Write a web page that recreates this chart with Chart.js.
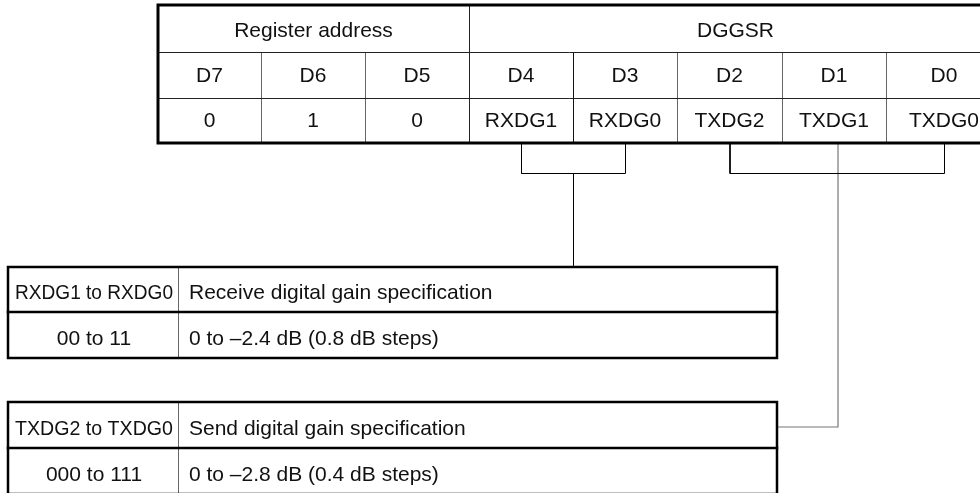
<!DOCTYPE html>
<html>
<head>
<meta charset="utf-8">
<script src="https://cdn.jsdelivr.net/npm/chart.js@4"></script>
<style>
  html, body { margin: 0; padding: 0; background: #fff; }
  #wrap { width: 980px; height: 493px; }
</style>
</head>
<body>
<div id="wrap"><canvas id="regChart" width="980" height="493"></canvas></div>
<script>
// contenido del registro
const headerLabels = ['Register address', 'DGGSR'];
const headerSpans = [3, 5];
const bitNames = ['D7', 'D6', 'D5', 'D4', 'D3', 'D2', 'D1', 'D0'];
const bitValues = ['0', '1', '0', 'RXDG1', 'RXDG0', 'TXDG2', 'TXDG1', 'TXDG0'];
const rxRows = [
  ['RXDG1 to RXDG0', 'Receive digital gain specification'],
  ['00 to 11', '0 to \u20132.4 dB (0.8 dB steps)']
];
const txRows = [
  ['TXDG2 to TXDG0', 'Send digital gain specification'],
  ['000 to 111', '0 to \u20132.8 dB (0.4 dB steps)']
];

// geometría (coordenadas de la escala, 1 unidad = 1 px)
const colEdges = [158, 261, 365, 469, 573, 677, 782, 886, 1002];
const rowEdges = [5, 52, 98, 143];
const subLeft = 8, subDiv = 178, subRight = 777;
const rxEdges = [267, 312, 358];
const txEdges = [402, 448, 494];
const bracketY = 173;

const segs = [];
function seg(pts, width, color) {
  segs.push({ pts: pts, width: width, color: color || '#000' });
}

// tabla superior
const L = colEdges[0], R = colEdges[colEdges.length - 1];
seg([[R, rowEdges[0]], [L, rowEdges[0]], [L, rowEdges[3]], [R, rowEdges[3]]], 3);
seg([[L, rowEdges[1]], [R, rowEdges[1]]], 1, '#222');
seg([[L, rowEdges[2]], [R, rowEdges[2]]], 1, '#222');
seg([[colEdges[3], rowEdges[0]], [colEdges[3], rowEdges[3]]], 1, '#222');
for (let i = 1; i < colEdges.length - 1; i++) {
  if (i === 3) continue;
  seg([[colEdges[i], rowEdges[1]], [colEdges[i], rowEdges[3]]], 1, i === 4 ? '#111' : '#666');
}

// tablas inferiores
[rxEdges, txEdges].forEach(function (e) {
  seg([[subLeft, e[2]], [subLeft, e[0]], [subRight, e[0]], [subRight, e[2]], [subLeft, e[2]]], 2.5);
  seg([[subLeft, e[1]], [subRight, e[1]]], 2.5);
  seg([[subDiv, e[0]], [subDiv, e[2]]], 1, '#666');
});

// corchetes y conectores
function mid(i) { return (colEdges[i] + colEdges[i + 1]) / 2; }
seg([[mid(3), rowEdges[3]], [mid(3), bracketY], [mid(4), bracketY], [mid(4), rowEdges[3]]], 1);
seg([[(mid(3) + mid(4)) / 2, bracketY], [(mid(3) + mid(4)) / 2, rxEdges[0]]], 1);
seg([[mid(5), rowEdges[3]], [mid(5), bracketY], [mid(7), bracketY], [mid(7), rowEdges[3]]], 1);
const txLineY = (txEdges[0] + txEdges[1]) / 2 + 2;
seg([[mid(6) + 4, rowEdges[3]], [mid(6) + 4, txLineY], [subRight, txLineY]], 1.2, '#777');

const datasets = segs.map(function (s) {
  const off = s.width === 1 ? 0.5 : 0;
  return {
    data: s.pts.map(function (p) { return { x: p[0] + off, y: p[1] + off }; }),
    showLine: true,
    borderColor: s.color,
    borderWidth: s.width,
    pointRadius: 0,
    fill: false,
    tension: 0,
    borderJoinStyle: 'miter',
    borderCapStyle: 'square'
  };
});

const FONT = '21px "Liberation Sans", Arial, sans-serif';

const textPlugin = {
  id: 'tableText',
  afterDatasetsDraw: function (chart) {
    const ctx = chart.ctx, xs = chart.scales.x, ys = chart.scales.y;
    function put(t, x, y, align, maxW) {
      ctx.textAlign = align || 'center';
      const px = xs.getPixelForValue(x), py = ys.getPixelForValue(y);
      if (maxW) ctx.fillText(t, px, py, maxW);
      else ctx.fillText(t, px, py);
    }
    ctx.save();
    ctx.font = FONT;
    ctx.fillStyle = '#111';
    ctx.textBaseline = 'middle';
    let c = 0;
    headerLabels.forEach(function (h, k) {
      const a = colEdges[c], b = colEdges[c + headerSpans[k]];
      put(h, (a + b) / 2, (rowEdges[0] + rowEdges[1]) / 2 + 3);
      c += headerSpans[k];
    });
    bitNames.forEach(function (n, i) {
      put(n, mid(i), (rowEdges[1] + rowEdges[2]) / 2 + 1);
    });
    bitValues.forEach(function (v, i) {
      put(v, mid(i), (rowEdges[2] + rowEdges[3]) / 2 + 1);
    });
    [[rxRows, rxEdges], [txRows, txEdges]].forEach(function (t) {
      t[0].forEach(function (row, r) {
        const y = (t[1][r] + t[1][r + 1]) / 2 + 4;
        put(row[0], (subLeft + subDiv) / 2 + 1, y, 'center', subDiv - subLeft - 12);
        put(row[1], subDiv + 11, y, 'left');
      });
    });
    ctx.restore();
  }
};

new Chart(document.getElementById('regChart'), {
  type: 'scatter',
  data: { datasets: datasets },
  options: {
    responsive: false,
    animation: false,
    devicePixelRatio: 1,
    layout: { padding: 0 },
    plugins: { legend: { display: false }, tooltip: { enabled: false } },
    scales: {
      x: { type: 'linear', min: 0, max: 980, display: false },
      y: { type: 'linear', min: 0, max: 493, reverse: true, display: false }
    }
  },
  plugins: [textPlugin]
});
</script>
</body>
</html>
